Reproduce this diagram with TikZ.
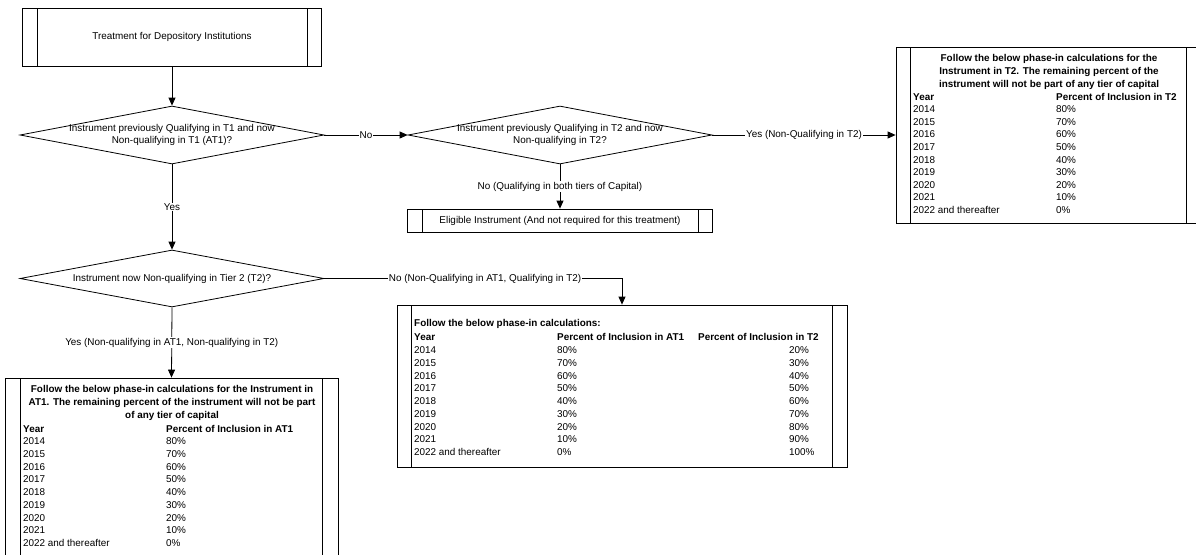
\documentclass[tikz,border=0pt]{standalone}
\usepackage{fontspec}
\setmainfont{Liberation Sans}
\usetikzlibrary{shapes.geometric,arrows.meta}
\tikzset{
  every node/.style={font=\fontsize{9.9}{12.6}\selectfont},
  sub/.style={draw, line width=0.8pt, inner sep=0pt,
    path picture={\draw[line width=0.8pt]
      ([xshift=#1]path picture bounding box.north west) -- ([xshift=#1]path picture bounding box.south west)
      ([xshift=-#1]path picture bounding box.north east) -- ([xshift=-#1]path picture bounding box.south east);}},
  sub/.default=14.5pt,
  dec/.style={draw, diamond, line width=0.8pt, inner sep=0pt, minimum width=304pt, minimum height=58pt},
  dtext/.style={align=center, inner sep=0pt},
  conn/.style={draw, line width=0.8pt, -{Triangle[length=8pt,width=7pt]}},
  lbl/.style={fill=white, inner sep=1pt},
  cell/.style={anchor=base west, inner sep=0pt},
  hcell/.style={anchor=base west, inner sep=0pt, font=\fontsize{9.9}{12.6}\selectfont\bfseries},
  head/.style={align=center, inner sep=0pt, font=\fontsize{9.9}{12.6}\selectfont\bfseries},
}
\begin{document}
\begin{tikzpicture}[x=1pt,y=-1pt]
\useasboundingbox[fill=white] (0,0) rectangle (1196,554);

% boxes
\node[sub, minimum width=299pt, minimum height=58pt] (top) at (172,37) {Treatment for Depository Institutions};
\node[dec] (d1) at (172,135) {};
\node[dtext] (d1t) at (172,135) {Instrument previously Qualifying in T1 and now\\Non-qualifying in T1 (AT1)?};
\node[dec] (d2) at (560,135) {};
\node[dtext] (d2t) at (560,135) {Instrument previously Qualifying in T2 and now\\Non-qualifying in T2?};
\node[dec, minimum height=57pt] (d3) at (172,278.5) {};
\node[dtext] (d3t) at (172,278.5) {Instrument now Non-qualifying in Tier 2 (T2)?};
\node[sub, minimum width=305pt, minimum height=23pt] (elig) at (560,220.5) {Eligible Instrument (And not required for this treatment)};
\node[sub, minimum width=305pt, minimum height=176pt] (rbox) at (1048.5,135) {};
\node[sub, minimum width=450pt, minimum height=162pt] (mid) at (622,386) {};
\node[sub=15.5pt, minimum width=333pt, minimum height=182pt] (bl) at (171.5,469) {};

% right table
\node[head] (rh) at (1049,72) {Follow the below phase-in calculations for the\\Instrument in T2. The remaining percent of the\\instrument will not be part of any tier of capital};
\node[hcell] (ryh) at (913,100.6) {Year};
\node[hcell] (rph) at (1056,100.6) {Percent of Inclusion in T2};
\foreach \yr/\pa [count=\k] in {2014/80\%,2015/70\%,2016/60\%,2017/50\%,2018/40\%,2019/30\%,2020/20\%,2021/10\%,2022 and thereafter/0\%}{
  \node[cell] (ry\k) at (913,{112.6+12.625*(\k-1)}) {\yr};
  \node[cell] (rp\k) at (1056,{112.6+12.625*(\k-1)}) {\pa};
}

% middle table
\node[hcell] (mh) at (414,326.6) {Follow the below phase-in calculations:};
\node[hcell] (myh) at (414,340.6) {Year};
\node[hcell] (mah) at (557,340.6) {Percent of Inclusion in AT1};
\node[hcell] (mth) at (698,340.6) {Percent of Inclusion in T2};
\foreach \yr/\pa/\pb [count=\k] in {2014/80\%/20\%,2015/70\%/30\%,2016/60\%/40\%,2017/50\%/50\%,2018/40\%/60\%,2019/30\%/70\%,2020/20\%/80\%,2021/10\%/90\%,2022 and thereafter/0\%/100\%}{
  \node[cell] (my\k) at (414,{353.6+12.75*(\k-1)}) {\yr};
  \node[cell] (ma\k) at (557,{353.6+12.75*(\k-1)}) {\pa};
  \node[cell] (mt\k) at (789,{353.6+12.75*(\k-1)}) {\pb};
}

% bottom-left table
\node[head] (bh) at (172,403) {Follow the below phase-in calculations for the Instrument in\\AT1. The remaining percent of the instrument will not be part\\of any tier of capital};
\node[hcell] (byh) at (23,432.6) {Year};
\node[hcell] (bah) at (166,432.6) {Percent of Inclusion in AT1};
\foreach \yr/\pa [count=\k] in {2014/80\%,2015/70\%,2016/60\%,2017/50\%,2018/40\%,2019/30\%,2020/20\%,2021/10\%,2022 and thereafter/0\%}{
  \node[cell] (by\k) at (23,{444.6+12.75*(\k-1)}) {\yr};
  \node[cell] (ba\k) at (166,{444.6+12.75*(\k-1)}) {\pa};
}

% connectors
\draw[conn] (top) -- (d1.north);
\draw[conn] (d1.east) -- node[lbl]{No} (d2.west);
\draw[conn] (d2.east) -- node[lbl]{Yes (Non-Qualifying in T2)} (rbox.west);
\draw[conn] (d2.south) -- node[lbl]{No (Qualifying in both tiers of Capital)} (elig.north);
\draw[conn] (d1.south) -- node[lbl]{Yes} (d3.north);
\draw[conn] (d3.east) -| node[lbl,pos=0.27]{No (Non-Qualifying in AT1, Qualifying in T2)} (mid.north);
\draw[conn] (d3.south) -- node[lbl]{Yes (Non-qualifying in AT1, Non-qualifying in T2)} (bl.north);
\end{tikzpicture}
\end{document}
